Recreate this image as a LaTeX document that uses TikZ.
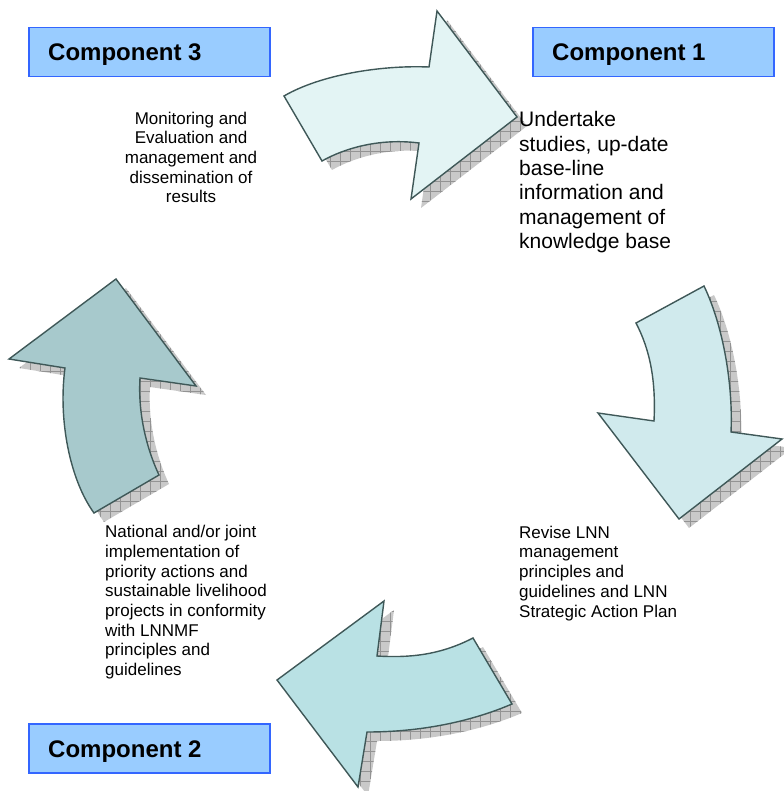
\documentclass[tikz,border=0pt]{standalone}
\usepackage{fontspec}
\setmainfont{Liberation Sans}
\usetikzlibrary{patterns.meta}

\definecolor{boxfill}{HTML}{99CCFF}
\definecolor{boxline}{HTML}{3366FF}
\definecolor{arrowline}{HTML}{3F5858}
\definecolor{fillTop}{HTML}{E3F4F4}
\definecolor{fillRight}{HTML}{D0EAED}
\definecolor{fillBottom}{HTML}{B9E1E4}
\definecolor{fillLeft}{HTML}{A7C9CC}

\tikzset{
  compbox/.style={draw=boxline, fill=boxfill, line width=1.5pt, inner sep=0pt,
    minimum width=241pt, minimum height=49pt, anchor=north west},
  complabel/.style={anchor=base west, inner sep=0pt,
    font=\fontsize{24}{28}\selectfont\bfseries},
  steptext/.style={inner sep=0pt, font=\fontsize{17}{19.7}\selectfont},
  bigtext/.style={inner sep=0pt, font=\fontsize{21}{24.3}\selectfont},
  arrowbody/.style={draw=arrowline, line width=1.4pt, line join=miter},
  arrowshadow/.style={preaction={fill=gray!42},
    pattern={Hatch[angle=0,distance=10pt,line width=0.5pt]}, pattern color=gray!85},
}

% outlines of the four curved block arrows
\def\arrowTop{(284,96) .. controls (320,75) and (380,65) .. (429,67)
  -- (437,11) -- (517,117) -- (411,199) -- (419,143)
  .. controls (380,138) and (345,148) .. (322,161) -- cycle}
\def\arrowRight{(636,323) -- (704,286) .. controls (725,330) and (733,390) .. (731,432)
  -- (782,439) -- (679,519) -- (598,413) -- (654,421)
  .. controls (656,380) and (650,350) .. (636,323) -- cycle}
\def\arrowBottom{(473,638) .. controls (440,655) and (410,658) .. (377,656)
  -- (384,601) -- (277,680) -- (358,787) -- (367,732)
  .. controls (420,732) and (470,722) .. (512,704) -- cycle}
\def\arrowLeft{(94,513) -- (159,475) .. controls (145,445) and (138,410) .. (140,378)
  -- (196,386) -- (116,279) -- (9,359) -- (65,368)
  .. controls (58,420) and (70,480) .. (94,513) -- cycle}

\begin{document}
\begin{tikzpicture}[x=1pt,y=-1pt]
  \useasboundingbox (0,0) rectangle (783,791);

  % shadows
  \begin{scope}[shift={(10,9)}]
    \path[arrowshadow] \arrowTop;
    \path[arrowshadow] \arrowRight;
    \path[arrowshadow] \arrowBottom;
    \path[arrowshadow] \arrowLeft;
  \end{scope}

  % arrows
  \path[arrowbody, fill=fillTop] \arrowTop;
  \path[arrowbody, fill=fillRight] \arrowRight;
  \path[arrowbody, fill=fillBottom] \arrowBottom;
  \path[arrowbody, fill=fillLeft] \arrowLeft;

  % component boxes
  \node[compbox] (comp3) at (28,27) {};
  \node[complabel] (comp3label) at (48,61) {Component 3};
  \node[compbox] (comp1) at (532,27) {};
  \node[complabel] (comp1label) at (552,61) {Component 1};
  \node[compbox] (comp2) at (28,723) {};
  \node[complabel] (comp2label) at (48,757) {Component 2};

  % descriptions (anchored at the baseline of their last line)
  \node[steptext, align=center, anchor=base] (monitor) at (191,203)
    {Monitoring and\\Evaluation and\\management and\\dissemination of\\results};
  \node[bigtext, align=left, anchor=base west] (studies) at (519,248.5)
    {Undertake\\studies, up-date\\base-line\\information and\\management of\\knowledge base};
  \node[steptext, align=left, anchor=base west] (revise) at (519,617)
    {Revise LNN\\management\\principles and\\guidelines and LNN\\Strategic Action Plan};
  \node[steptext, align=left, anchor=base west] (national) at (105,675.5)
    {National and/or joint\\implementation of\\priority actions and\\sustainable livelihood\\projects in conformity\\with LNNMF\\principles and\\guidelines};
\end{tikzpicture}
\end{document}
